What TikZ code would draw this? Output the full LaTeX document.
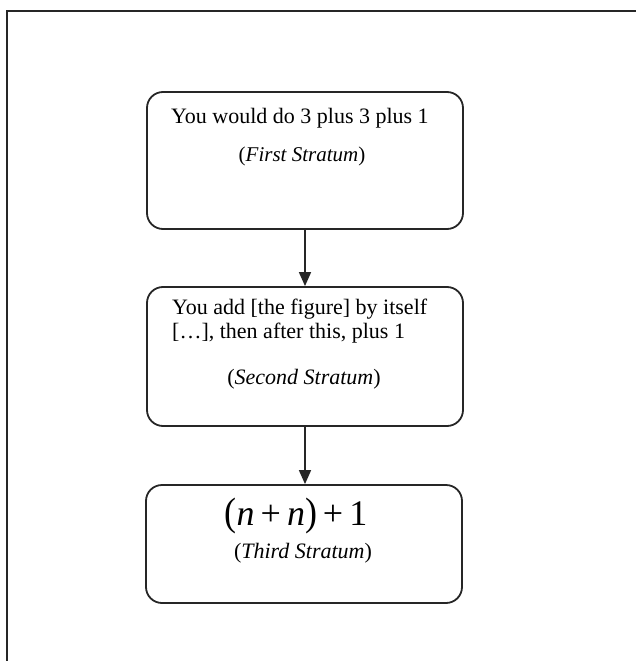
\documentclass[tikz,border=0pt]{standalone}
\usepackage{fontspec}
\setmainfont{Liberation Serif}
\usetikzlibrary{arrows.meta, positioning}
\tikzset{
    StratumBox/.style={draw=black!85, line width=1.8pt, rounded corners=16pt, minimum width=316pt, inner sep=0pt},
    BodyText/.style={font=\fontsize{22}{24}\selectfont, inner sep=0pt},
    TagText/.style={font=\fontsize{21}{24}\selectfont, inner sep=0pt},
    StepArrow/.style={-{Triangle[length=14pt, width=12pt]}, line width=1.6pt, black!85}
}
\begin{document}
\begin{tikzpicture}[x=1pt, y=-1pt]
    \useasboundingbox (0,0) rectangle (636,661);

    % open frame round the figure
    \draw[line width=2pt, black!85] (7,661) -- (7,11) -- (636,11);

    % first stratum
    \node[StratumBox, minimum height=137pt] (first) at (305,160.5) {};
    \node[BodyText] (firstText) at (300,118) {You would do 3 plus 3 plus 1};
    \node[TagText] (firstTag) at (302,156) {(\textit{First Stratum})};

    % second stratum
    \node[StratumBox, minimum height=139pt] (second) at (305,356.5) {};
    \node[BodyText, anchor=north west, align=left] (secondText) at (172,299)
        {You add [the figure] by itself\\{}[…], then after this, plus 1};
    \node[TagText, font=\fontsize{22}{24}\selectfont] (secondTag) at (304,379) {(\textit{Second Stratum})};

    % third stratum
    \node[StratumBox, minimum height=118pt] (third) at (304,544) {};
    \node[inner sep=0pt, font=\fontsize{36}{40}\selectfont] (thirdFormula) at (296,516)
        {\scalebox{1}[1.1]{(}\textit{n}\,+\,\textit{n}\scalebox{1}[1.1]{)}\,+\,1};
    \node[TagText, font=\fontsize{22}{24}\selectfont] (thirdTag) at (303,553) {(\textit{Third Stratum})};

    \draw[StepArrow] (first.south) -- (second.north);
    \draw[StepArrow] (second.south) -- (third.north -| second.south);
\end{tikzpicture}
\end{document}
